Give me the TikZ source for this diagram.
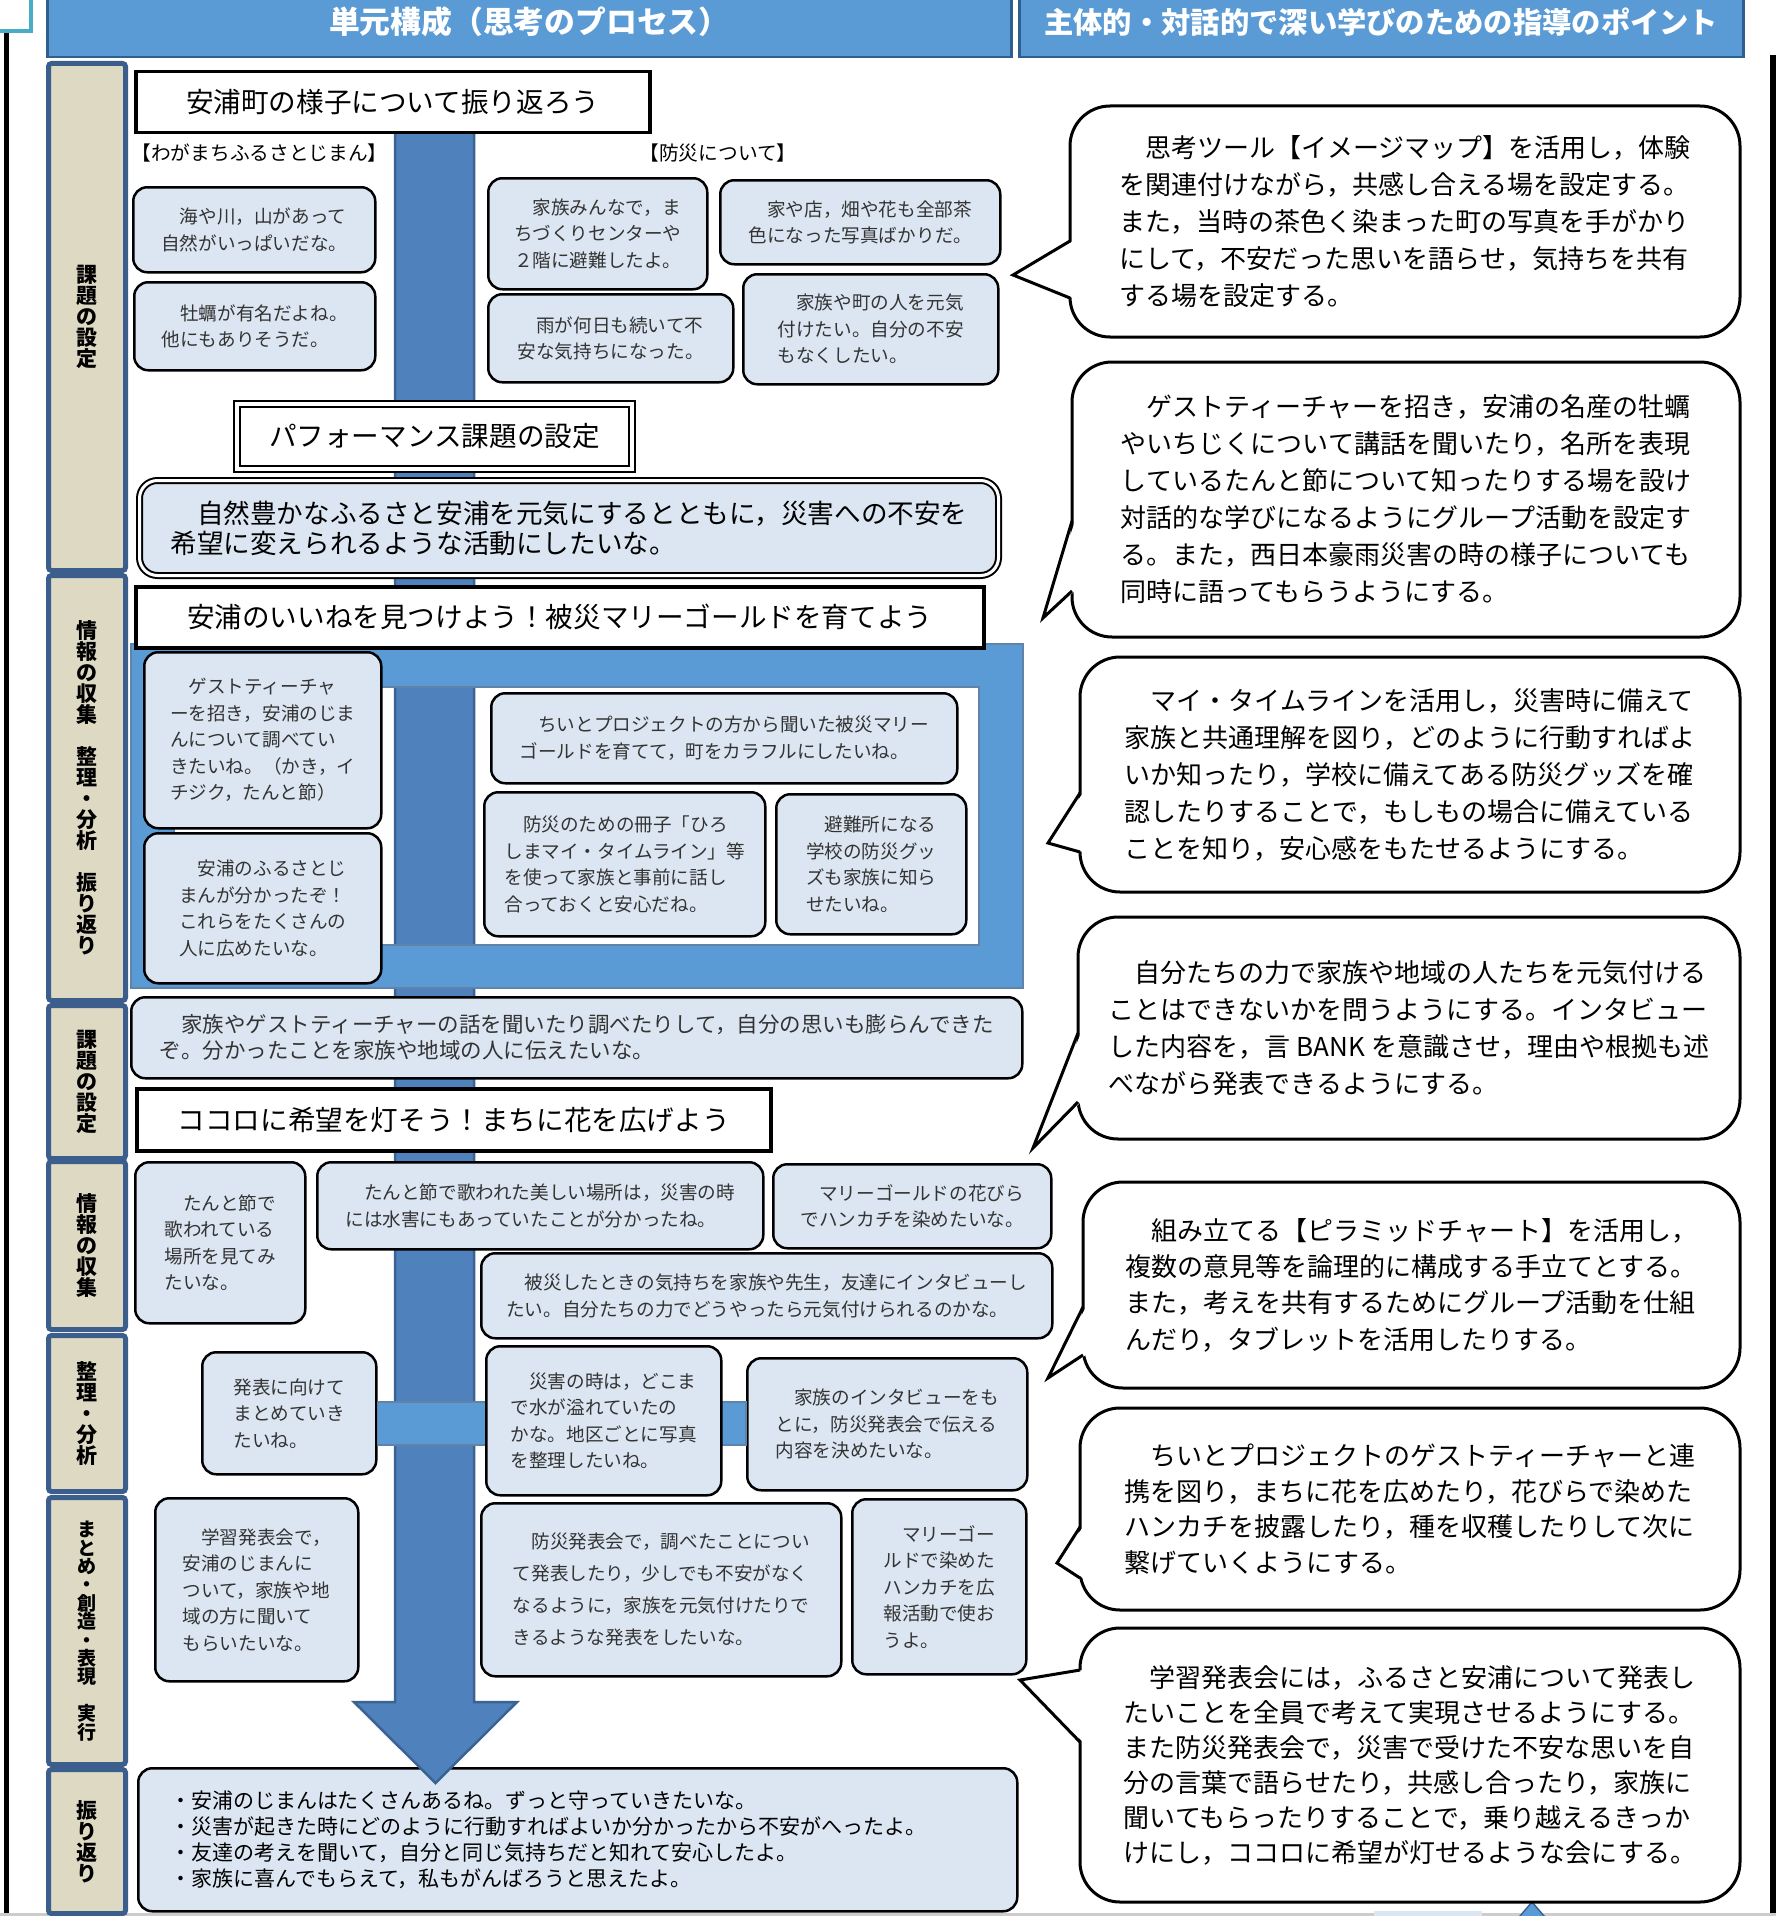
\documentclass[tikz,border=0pt]{standalone}
\usepackage{fontspec}
\setmainfont{Noto Sans CJK JP}
\usetikzlibrary{calc}

\definecolor{hdfill}{HTML}{5B9BD5}
\definecolor{hdedge}{HTML}{2F5F8F}
\definecolor{lblfill}{HTML}{DDD9C3}
\definecolor{lbledge}{HTML}{3B5E8C}
\definecolor{barfill}{HTML}{4F81BD}
\definecolor{baredge}{HTML}{3A6393}
\definecolor{cardfill}{HTML}{DCE6F2}
\definecolor{tealedge}{HTML}{4BACC6}

\newcommand\hdfont{\fontsize{29.3}{32}\selectfont}
\newcommand\stagefont{\fontsize{21}{21}\selectfont}
\newcommand\cardfont{\fontsize{18.6}{26.5}\selectfont}
\newcommand\ttlfont{\fontsize{27.6}{32}\selectfont}
\newcommand\bigfont{\fontsize{26.6}{30}\selectfont}
\newcommand\bubblefont{\fontsize{26}{37}\selectfont}
\newcommand\lblfont{\fontsize{19.7}{24}\selectfont}

\tikzset{
  hdbox/.style={fill=hdfill, draw=hdedge, line width=2.5pt, anchor=north west, text=white, font=\hdfont\bfseries},
  stagebox/.style={fill=lblfill, draw=lbledge, line width=5pt, rounded corners=3pt, anchor=north west,
    minimum width=77pt, align=center, inner sep=0pt, font=\stagefont\bfseries},
  card/.style={fill=cardfill, draw=black, line width=2.5pt, rounded corners=14pt, anchor=north west,
    align=left, font=\cardfont, text=black!80},
  ttlbox/.style={fill=white, draw=black, line width=3.5pt, anchor=north west, font=\ttlfont},
  bubble/.style={fill=white, draw=black, line width=3pt, rounded corners=40pt, anchor=north west,
    outer sep=0pt, align=left, font=\bubblefont},
  tail/.style={draw=black, line width=3pt, line join=miter},
}

\begin{document}
\begin{tikzpicture}[x=1pt, y=-1pt]
  \useasboundingbox (0,0) rectangle (1776,1916);
  % page edges
  \draw[tealedge, line width=4pt, fill=white] (-10,-10) rectangle (31,31);
  \draw[line width=5pt] (6,33) -- (6,1916);
  \draw[line width=6pt] (1773,55) -- (1773,1916);
  \draw[black!20, line width=3pt] (0,1914.5) -- (1776,1914.5);
  \fill[cardfill] (1374,1911) rectangle (1482,1920);
  \filldraw[fill=hdfill, draw=baredge, line width=1.5pt] (1532,1902) -- (1556,1930) -- (1508,1930) -- cycle;
  % headers
  \node[hdbox, minimum width=964pt, minimum height=70pt, font=\fontsize{30.8}{32}\selectfont\bfseries] (hdA) at (46,-14) {単元構成（思考のプロセス）};
  \node[hdbox, minimum width=724pt, minimum height=70pt] (hdB) at (1018,-14) {主体的・対話的で深い学びのための指導のポイント};
  % stage labels
  \node[stagebox, minimum height=507pt] (s1) at (46,61) {課\\題\\の\\設\\定};
  \node[stagebox, minimum height=425pt] (s2) at (46,573) {情\\報\\の\\収\\集\\　\\整\\理\\・\\分\\析\\　\\振\\り\\返\\り};
  \node[stagebox, minimum height=153pt] (s3) at (46,1003) {課\\題\\の\\設\\定};
  \node[stagebox, minimum height=168pt] (s4) at (46,1159) {情\\報\\の\\収\\集};
  \node[stagebox, minimum height=156pt] (s5) at (46,1333) {整\\理\\・\\分\\析};
  \node[stagebox, minimum height=267pt, font=\fontsize{19}{18.4}\selectfont\bfseries] (s6) at (46,1495) {ま\\と\\め\\・\\創\\造\\・\\表\\現\\　\\実\\行};
  \node[stagebox, minimum height=144pt] (s7) at (46,1767) {振\\り\\返\\り};
  % reflection box (under the arrow tip)
  \node[card, minimum width=879pt, minimum height=143pt, text width=815pt, text=black, font=\fontsize{21}{26}\selectfont] (I1) at (137,1767) {・安浦のじまんはたくさんあるね。ずっと守っていきたいな。\\・災害が起きた時にどのように行動すればよいか分かったから不安がへったよ。\\・友達の考えを聞いて，自分と同じ気持ちだと知れて安心したよ。\\・家族に喜んでもらえて，私もがんばろうと思えたよ。};
  % main arrow
  \path[fill=barfill, draw=baredge, line width=2.5pt] (395,128) -- (474,128) -- (474,1702) -- (517,1702)
    -- (435.5,1783) -- (354,1702) -- (395,1702) -- cycle;
  % frame round stage 2
  \path[fill=hdfill, draw=baredge!80, line width=1.5pt, even odd rule] (131,644) rectangle (1023,988) (174,687) rectangle (979,945);

  % stage 1
  \node[ttlbox, minimum width=514pt, minimum height=61pt] (T1) at (134,70) {安浦町の様子について振り返ろう};
  \node[anchor=west, font=\lblfont] (lblA) at (128,153) {【わがまちふるさとじまん】};
  \node[anchor=west, font=\lblfont] (lblB) at (636,153) {【防災について】};
  \node[card, minimum width=242pt, minimum height=85pt] (A1) at (132,186) {　海や川，山があって\\自然がいっぱいだな。};
  \node[card, minimum width=241pt, minimum height=88pt] (A2) at (133,281) {　牡蠣が有名だよね。\\他にもありそうだ。};
  \node[card, minimum width=219pt, minimum height=111pt] (B1) at (487,177) {　家族みんなで，ま\\ちづくりセンターや\\２階に避難したよ。};
  \node[card, minimum width=280pt, minimum height=84pt] (B2) at (719,179) {　家や店，畑や花も全部茶\\色になった写真ばかりだ。};
  \node[card, minimum width=245pt, minimum height=88pt] (B3) at (487,293) {　雨が何日も続いて不\\安な気持ちになった。};
  \node[card, minimum width=255pt, minimum height=110pt] (B4) at (742,273) {　家族や町の人を元気\\付けたい。自分の不安\\もなくしたい。};
  \node[ttlbox, line width=2pt, double=white, double distance=4pt, minimum width=395pt, minimum height=65pt] (T2) at (236,403) {パフォーマンス課題の設定};
  \node[card, line width=2pt, double=white, double distance=3pt, rounded corners=18pt, text=black, font=\bigfont,
    minimum width=859pt, minimum height=95pt] (BIG) at (138.5,479.5) {　自然豊かなふるさと安浦を元気にするとともに，災害への不安を\\希望に変えられるような活動にしたいな。};

  % stage 2
  \node[ttlbox, minimum width=848pt, minimum height=61pt] (T3) at (134,585) {安浦のいいねを見つけよう！被災マリーゴールドを育てよう};
  \node[card, minimum width=237pt, minimum height=176pt] (C1) at (143,651) {　ゲストティーチャ\\ーを招き，安浦のじま\\んについて調べてい\\きたいね。（かき，イ\\チジク，たんと節）};
  \node[card, minimum width=237pt, minimum height=150pt] (C2) at (143,832) {　安浦のふるさとじ\\まんが分かったぞ！\\これらをたくさんの\\人に広めたいな。};
  \node[card, minimum width=466pt, minimum height=90pt] (C3) at (490,692) {　ちいとプロジェクトの方から聞いた被災マリー\\ゴールドを育てて，町をカラフルにしたいね。};
  \node[card, minimum width=281pt, minimum height=144pt] (C4) at (483,791) {　防災のための冊子「ひろ\\しまマイ・タイムライン」等\\を使って家族と事前に話し\\合っておくと安心だね。};
  \node[card, minimum width=190pt, minimum height=140pt] (C5) at (775,793) {　避難所になる\\学校の防災グッ\\ズも家族に知ら\\せたいね。};

  % stage 3
  \node[card, minimum width=891pt, minimum height=81pt, font=\fontsize{21.5}{26}\selectfont] (D1) at (130,996) {　家族やゲストティーチャーの話を聞いたり調べたりして，自分の思いも膨らんできた\\ぞ。分かったことを家族や地域の人に伝えたいな。};
  \node[ttlbox, minimum width=634pt, minimum height=62pt] (T4) at (135,1087) {ココロに希望を灯そう！まちに花を広げよう};

  % stage 4
  \node[card, minimum width=170pt, minimum height=161pt] (E1) at (134,1161) {　たんと節で\\歌われている\\場所を見てみ\\たいな。};
  \node[card, minimum width=446pt, minimum height=87pt] (E2) at (316,1161) {　たんと節で歌われた美しい場所は，災害の時\\には水害にもあっていたことが分かったね。};
  \node[card, minimum width=278pt, minimum height=84pt] (E3) at (772,1163) {　マリーゴールドの花びら\\でハンカチを染めたいな。};
  \node[card, minimum width=571pt, minimum height=85pt] (E4) at (480,1252) {　被災したときの気持ちを家族や先生，友達にインタビューし\\たい。自分たちの力でどうやったら元気付けられるのかな。};

  % stage 5
  \node[card, minimum width=174pt, minimum height=122pt] (F1) at (201,1351) {発表に向けて\\まとめていき\\たいね。};
  \node[card, minimum width=280pt, minimum height=132pt] (G2) at (746,1357) {　家族のインタビューをも\\とに，防災発表会で伝える\\内容を決めたいな。};
  \path[fill=hdfill, draw=baredge!80, line width=1.5pt] ($(F1.north east)+(0,51)$) rectangle ($(G2.north west)+(0,88)$);
  \node[card, minimum width=235pt, minimum height=149pt] (G1) at (485,1345) {　災害の時は，どこま\\で水が溢れていたの\\かな。地区ごとに写真\\を整理したいね。};

  % stage 6
  \node[card, minimum width=203pt, minimum height=183pt] (H1) at (154,1497) {　学習発表会で，\\安浦のじまんに\\ついて，家族や地\\域の方に聞いて\\もらいたいな。};
  \node[card, minimum width=360pt, minimum height=173pt, font=\fontsize{18.6}{32}\selectfont] (H2) at (480,1502) {　防災発表会で，調べたことについ\\て発表したり，少しでも不安がなく\\なるように，家族を元気付けたりで\\きるような発表をしたいな。};
  \node[card, minimum width=174pt, minimum height=175pt] (H3) at (851,1498) {　マリーゴー\\ルドで染めた\\ハンカチを広\\報活動で使お\\うよ。};

  % teaching points
  \node[bubble, minimum width=670pt, minimum height=231pt] (R1) at (1070,106) {　思考ツール【イメージマップ】を活用し，体験\\を関連付けながら，共感し合える場を設定する。\\また，当時の茶色く染まった町の写真を手がかり\\にして，不安だった思いを語らせ，気持ちを共有\\する場を設定する。};
  \node[bubble, minimum width=668pt, minimum height=275pt] (R2) at (1072,362) {　ゲストティーチャーを招き，安浦の名産の牡蠣\\やいちじくについて講話を聞いたり，名所を表現\\しているたんと節について知ったりする場を設け\\対話的な学びになるようにグループ活動を設定す\\る。また，西日本豪雨災害の時の様子についても\\同時に語ってもらうようにする。};
  \node[bubble, minimum width=660pt, minimum height=235pt] (R3) at (1080,657) {　マイ・タイムラインを活用し，災害時に備えて\\家族と共通理解を図り，どのように行動すればよ\\いか知ったり，学校に備えてある防災グッズを確\\認したりすることで，もしもの場合に備えている\\ことを知り，安心感をもたせるようにする。};
  \node[bubble, minimum width=662pt, minimum height=222pt] (R4) at (1078,917) {　自分たちの力で家族や地域の人たちを元気付ける\\ことはできないかを問うようにする。インタビュー\\した内容を，言 BANK を意識させ，理由や根拠も述\\べながら発表できるようにする。};
  \node[bubble, minimum width=657pt, minimum height=206pt, font=\fontsize{26}{36.3}\selectfont] (R5) at (1083,1182) {　組み立てる【ピラミッドチャート】を活用し，\\複数の意見等を論理的に構成する手立てとする。\\また，考えを共有するためにグループ活動を仕組\\んだり，タブレットを活用したりする。};
  \node[bubble, minimum width=660pt, minimum height=202pt, font=\fontsize{26}{35.7}\selectfont] (R6) at (1080,1408) {　ちいとプロジェクトのゲストティーチャーと連\\携を図り，まちに花を広めたり，花びらで染めた\\ハンカチを披露したり，種を収穫したりして次に\\繋げていくようにする。};
  \node[bubble, minimum width=660pt, minimum height=274pt, font=\fontsize{26}{35}\selectfont] (R7) at (1080,1628) {　学習発表会には，ふるさと安浦について発表し\\たいことを全員で考えて実現させるようにする。\\また防災発表会で，災害で受けた不安な思いを自\\分の言葉で語らせたり，共感し合ったり，家族に\\聞いてもらったりすることで，乗り越えるきっか\\けにし，ココロに希望が灯せるような会にする。};
  % bubble tails
  \foreach \bub/\tx/\ty/\ua/\ub in {R1/1013/275/135/192, R2/1043/618/159/229, R3/1048/843/136/195,
      R4/1033/1148/116/185, R5/1048/1378/125/173, R6/1057/1563/119/170, R7/1020/1680/42/114} {
    \coordinate (tip\bub) at (\tx,\ty);
    \fill[white] ([xshift=3pt, yshift=-\ua pt]\bub.north west) -- (tip\bub) -- ([xshift=3pt, yshift=-\ub pt]\bub.north west) -- cycle;
    \draw[tail] ([yshift=-\ua pt]\bub.north west) -- (tip\bub) -- ([yshift=-\ub pt]\bub.north west);
  }
\end{tikzpicture}
\end{document}
